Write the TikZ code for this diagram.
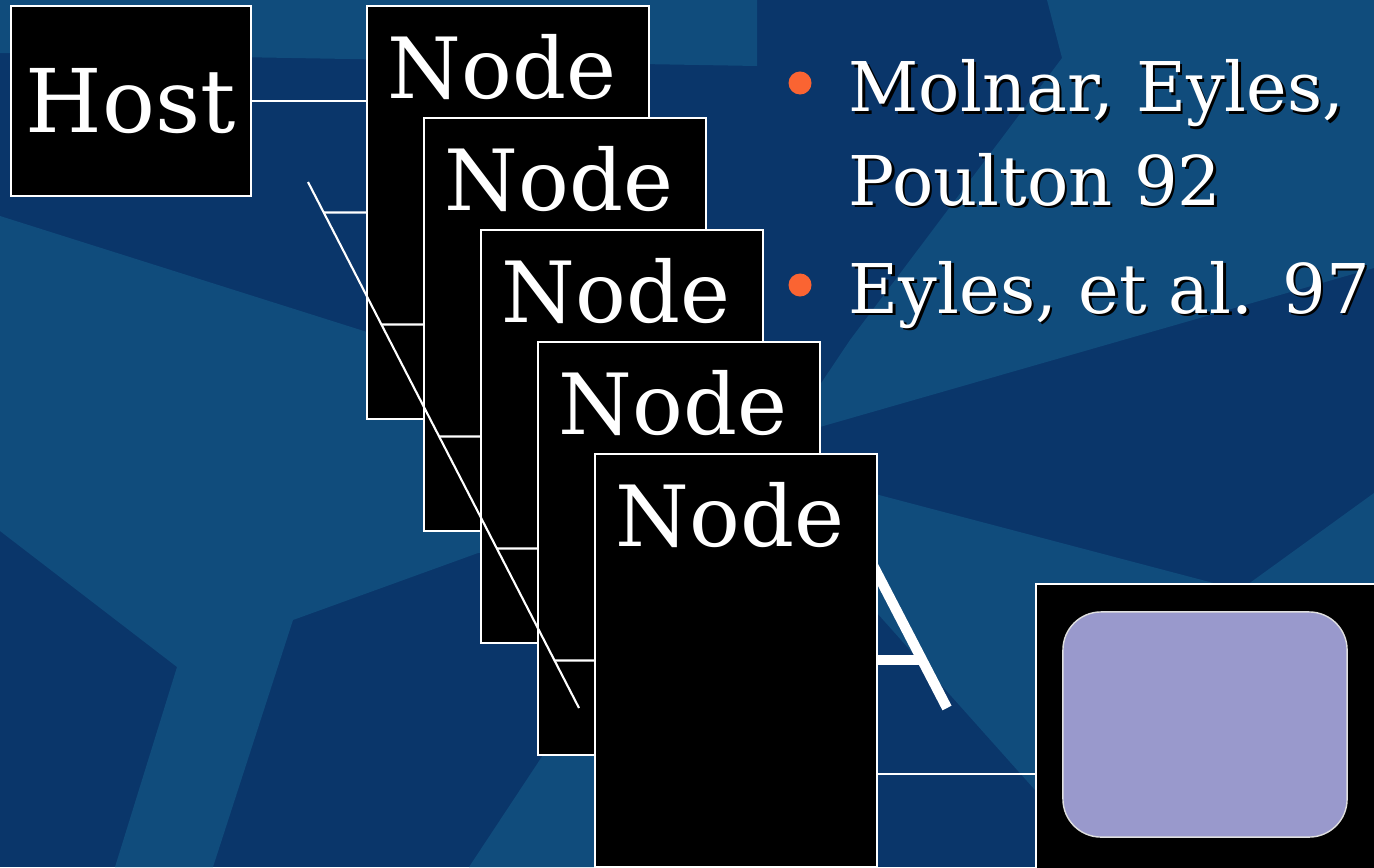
\documentclass[tikz,border=0pt]{standalone}
\usepackage{fontspec}
\setmainfont{DejaVu Serif}
\usetikzlibrary{positioning}
\definecolor{bgdark}{RGB}{10,54,106}
\definecolor{bglight}{RGB}{16,76,124}
\definecolor{dotorange}{RGB}{250,100,50}
\definecolor{screenblue}{RGB}{153,153,204}

\begin{document}
\begin{tikzpicture}[x=0.01cm, y=-0.01cm,
		unitbox/.style={draw=white, fill=black, line width=0.6pt, inner sep=0pt, minimum width=2.82cm, minimum height=4.13cm},
		hostbox/.style={draw=white, fill=black, line width=0.6pt, inner sep=0pt, minimum width=2.40cm, minimum height=1.90cm, text=white, font=\fontsize{25}{30}\selectfont},
		wire/.style={white, line width=0.6pt},
		biglabel/.style={text=white, font=\fontsize{24}{29}\selectfont, inner sep=0pt},
		txt/.style={text=white, font=\fontsize{19.5}{24}\selectfont, inner sep=0pt, anchor=base west},
		bulletdot/.style={circle, fill=dotorange, minimum size=0.23cm, inner sep=0pt}]
					\useasboundingbox (0,0) rectangle (1374,867);
					\clip (0,0) rectangle (1374,867);
					% draw background
					\fill[bgdark] (0,0) rectangle (1374,867);
					\fill[bglight] (0,0) -- (757,0) -- (757,66) -- (0,53) -- cycle;
					\fill[bglight] (1047,0) -- (1374,0) -- (1374,268) -- (785,437) -- (850,340) -- (1062,58) -- cycle;
					\fill[bglight] (0,216) -- (367,332) -- (600,400) -- (600,540) -- (478,553) -- (293,620) -- (213,867) -- (115,867) -- (177,667) -- (0,531) -- cycle;
					\fill[bglight] (860,490) -- (1240,590) -- (1374,493) -- (1374,867) -- (1100,867) -- (1035,790) -- (877,613) -- (860,600) -- cycle;
					\fill[bglight] (469,867) -- (545,752) -- (600,740) -- (600,867) -- cycle;
					
					% the letter behind the last node
					\draw[white, line width=2.9pt] (808,440) -- (947,708);
					\draw[white, line width=3.1pt] (860,660) -- (922,660);
					
					% draw host and nodes
					\node[hostbox] (host) at (131,101) {Host};
					\foreach \i in {1,...,5} {
						\node[unitbox] (n\i) at ({451+57*\i},{100.5+112*\i}) {};
						\path (n\i.north) ++(-6,94) node[biglabel, anchor=base] (t\i) {Node};
					}
					
					% host link and bus
					\draw[wire] (host.east) -- (host.east -| n1.west);
					\coordinate (busA) at (308,182);
					\coordinate (busB) at (579,708);
					\draw[wire] (busA) -- (busB);
					\foreach \i in {1,...,5}
						\draw[wire] (intersection of busA--busB and n\i.west--n\i.east) -- (n\i.west);
					
					% display
					\node[unitbox, minimum width=3.6cm, minimum height=3.8cm, anchor=north west] (disp) at (1035,583) {};
					\node[draw=gray!25, fill=screenblue, line width=0.4pt, rounded corners=0.38cm, minimum width=2.84cm, minimum height=2.25cm] (scr) at (1205,724.5) {};
					\draw[wire] (n5.east |- disp.west) -- (disp.west);
					
					% references
					\node[bulletdot] (d1) at (800,83) {};
					\node[bulletdot] (d2) at (800,285) {};
					\foreach \name/\y/\txt in {m1/112/{Molnar, Eyles,}, m2/205/{Poulton 92}, m3/313/{Eyles, et al. 97}} {
						\node[txt, text=black] (\name s) at (850.5,\y+2.5) {\txt};
						\node[txt] (\name) at (848,\y) {\txt};
					}
				\end{tikzpicture}
\end{document}
